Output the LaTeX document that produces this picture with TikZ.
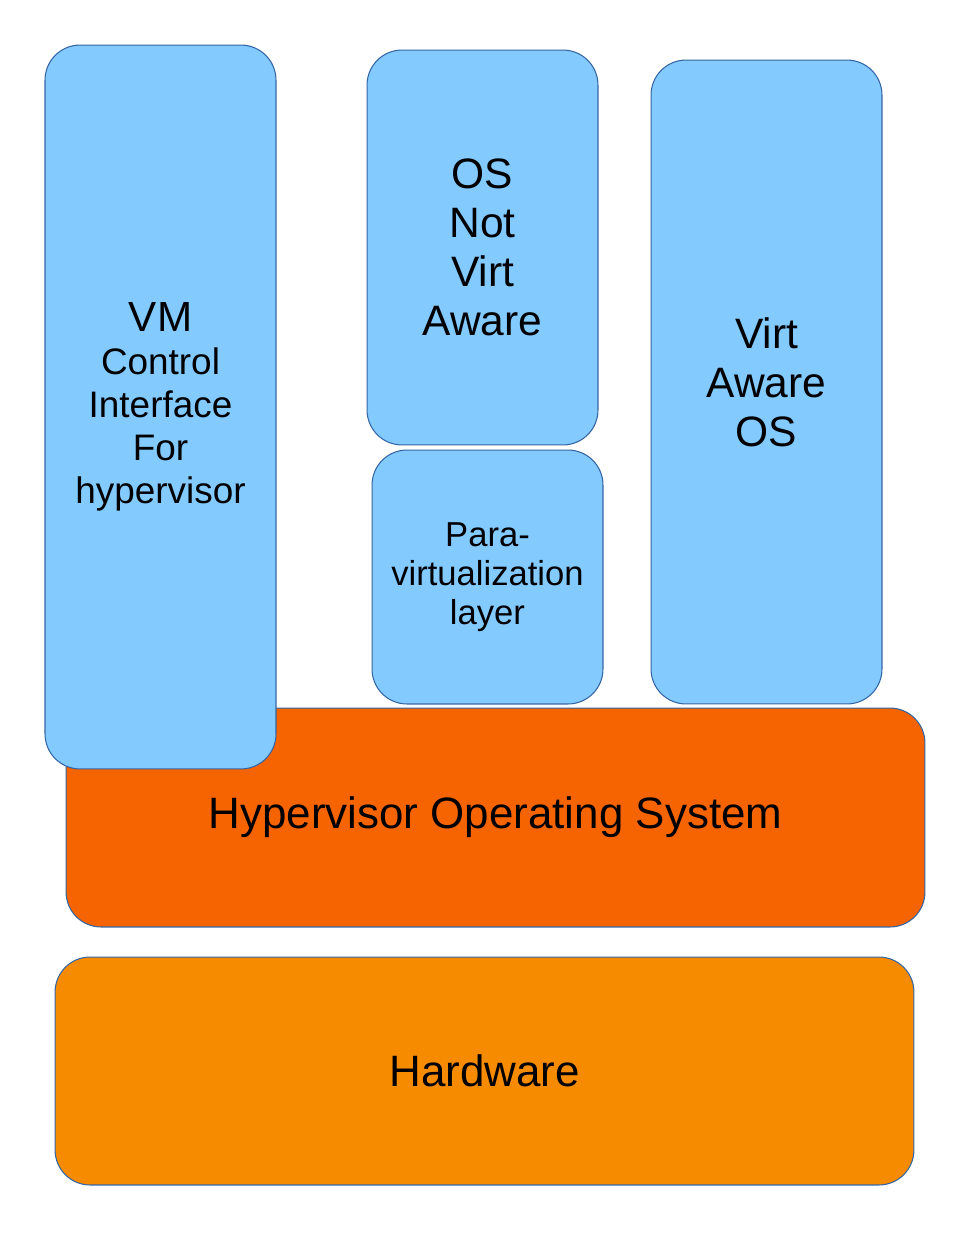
\documentclass[tikz,border=0pt]{standalone}
\usepackage{fontspec}
\setmainfont{Liberation Sans}
\usepackage{xcolor}
\definecolor{guestBlue}{HTML}{83CAFF}
\definecolor{hypOrange}{HTML}{F56400}
\definecolor{hwOrange}{HTML}{F68B00}
\definecolor{boxLine}{HTML}{3465A4}
\begin{document}
\begin{tikzpicture}[x=0.02cm, y=-0.02cm, line width=0.6pt,
Layer/.style={draw=boxLine, rounded corners=0.7cm, minimum width=17.18cm, inner sep=0pt, font=\fontsize{25}{29}\selectfont},
Guest/.style={draw=boxLine, fill=guestBlue, rounded corners=0.7cm, minimum width=4.62cm, inner sep=0pt, align=center}]
\useasboundingbox (0,0) rectangle (969,1254);
% bottom layers
\node [Layer, fill=hwOrange, minimum height=4.56cm] (hardware) at (484.5,1071) {Hardware};
\node [Layer, fill=hypOrange, minimum height=4.38cm] (hypervisor) at (495.5,817.5) {Hypervisor Operating System};
% guests on top
\node [Guest, minimum height=14.48cm, font=\fontsize{21}{24.4}\selectfont] (control) at (160.5,407)
  {{\fontsize{24}{26}\selectfont VM}\\Control\\Interface\\For\\hypervisor};
\foreach \name/\cx/\cy/\boxh/\fsz/\bsk/\txt in {
  notaware/482.5/247.5/7.9/24.2/27.8/{OS\\Not\\Virt\\Aware},
  paravirt/487.5/577/5.08/19.7/22.1/{Para-\\virtualization\\layer},
  virtaware/766.5/382/12.88/24.2/28/{Virt\\Aware\\OS}%
} {
  \node [Guest, minimum height=\boxh cm, font=\fontsize{\fsz}{\bsk}\selectfont] (\name) at (\cx,\cy) {\txt};
}
\end{tikzpicture}
\end{document}
